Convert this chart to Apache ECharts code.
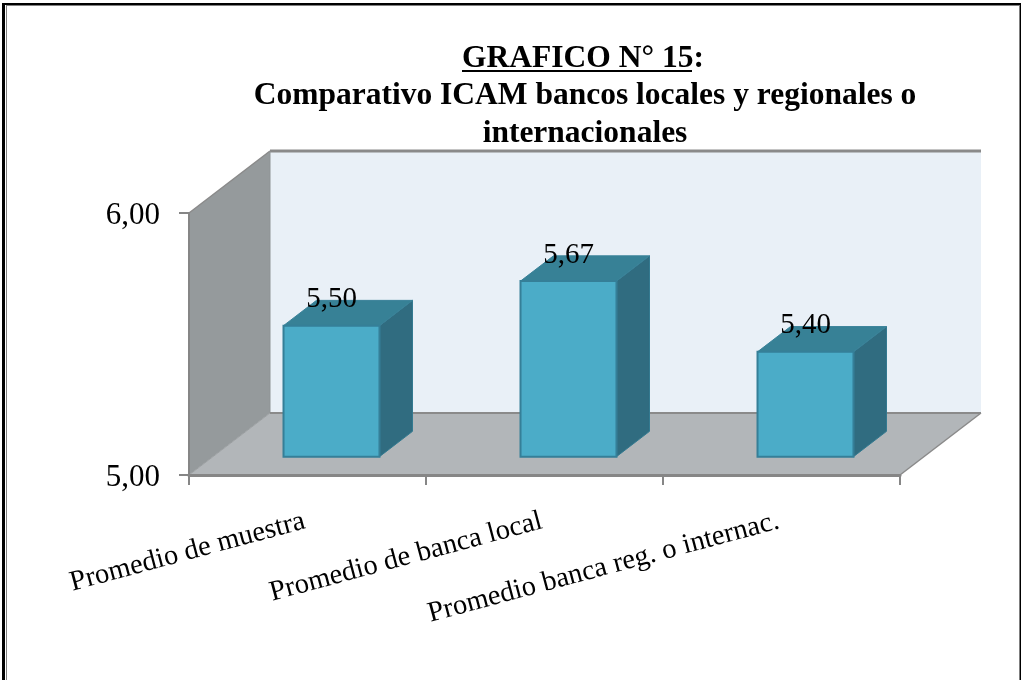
<!DOCTYPE html>
<html><head><meta charset="utf-8">
<style>html,body{margin:0;padding:0;background:#fff}#c{width:1021px;height:680px}</style>
<script src="https://cdn.jsdelivr.net/npm/echarts@6/dist/echarts.min.js"></script>
</head><body><div id="c"></div>
<script>
const categories = ['Promedio de muestra','Promedio de banca local','Promedio banca reg. o internac.'];
const values = [5.50,5.67,5.40];
const axisMin = 5, axisMax = 6;
const titleLine1 = 'GRAFICO N° 15';
const titleLine2 = 'Comparativo ICAM bancos locales y regionales o';
const titleLine3 = 'internacionales';

const fmt = v => v.toFixed(2).replace('.',',');
const SERIF = '"Liberation Serif","Times New Roman",serif';
const DX = 81, DY = 62, FRONT = 0.2963, BACK = 0.7037;
const EDGE = '#8a8a8a';

function renderWalls(params, api){
  const cs = params.coordSys;
  const x0 = cs.x, x1 = cs.x+cs.width, yT = cs.y, yB = cs.y+cs.height;
  const poly = (pts, fill) => ({type:'polygon',shape:{points:pts},style:{fill,stroke:null}});
  const line = (a,b,w,c) => ({type:'line',shape:{x1:a[0],y1:a[1],x2:b[0],y2:b[1]},style:{stroke:c||EDGE,lineWidth:w}});
  return {type:'group',children:[
    poly([[x0+DX,yT-DY],[x1+DX,yT-DY],[x1+DX,yB-DY],[x0+DX,yB-DY]],'#e9f0f7'),
    poly([[x0,yT],[x0+DX,yT-DY],[x0+DX,yB-DY],[x0,yB]],'#959a9c'),
    poly([[x0,yB],[x0+DX,yB-DY],[x1+DX,yB-DY],[x1,yB]],'#b2b6b9'),
    line([x0+DX,yT-DY],[x1+DX,yT-DY],3),
    line([x0,yT],[x0+DX,yT-DY],1.5),
    line([x0+DX,yT-DY],[x0+DX,yB-DY],1,'#8f9496'),
    line([x0+DX,yB-DY],[x1+DX,yB-DY],2),
    line([x0,yB],[x0+DX,yB-DY],1,'#9b9fa1'),
    line([x1,yB],[x1+DX,yB-DY],1.5)
  ]};
}
function renderBar(params, api){
  const i = api.value(0), v = api.value(1);
  const top = api.coord([i,v]), base = api.coord([i,axisMin]);
  const band = api.size([1,0])[0], w = band*0.405;
  const fx = top[0]+DX*FRONT-w/2, fy = top[1]-DY*FRONT, by = base[1]-DY*FRONT;
  const dx = DX*(BACK-FRONT), dy = DY*(BACK-FRONT);
  return {type:'group',children:[
    {type:'polygon',shape:{points:[[fx+w,fy],[fx+w+dx,fy-dy],[fx+w+dx,by-dy],[fx+w,by]]},style:{fill:'#306c80',stroke:'#337a90',lineWidth:1}},
    {type:'polygon',shape:{points:[[fx,fy],[fx+dx,fy-dy],[fx+w+dx,fy-dy],[fx+w,fy]]},style:{fill:'#378196',stroke:'#3a8299',lineWidth:1}},
    {type:'rect',shape:{x:fx,y:fy,width:w,height:by-fy},style:{fill:'#4bacc8',stroke:'#357f98',lineWidth:2}},
    {type:'text',x:fx+w/2,y:fy-26,style:{text:fmt(v),font:'29px '+SERIF,fill:'#000',align:'center',verticalAlign:'middle'}}
  ]};
}
const chart = echarts.init(document.getElementById('c'),null,{renderer:'canvas'});
const tf = 'bold 31.5px '+SERIF;
chart.setOption({
  animation:false,
  backgroundColor:'#fff',
  grid:{left:189,top:213,width:711,height:262,containLabel:false},
  xAxis:{type:'category',data:categories,z:5,
    axisLine:{lineStyle:{color:'#868686',width:3}},
    axisTick:{show:true,length:10,lineStyle:{color:'#868686',width:2}},
    axisLabel:{interval:0,rotate:15,margin:45,padding:[0,3,0,0],fontFamily:SERIF,fontSize:28.5,color:'#000',hideOverlap:false}},
  yAxis:{type:'value',min:axisMin,max:axisMax,interval:1,z:5,splitLine:{show:false},
    axisLine:{show:true,lineStyle:{color:'#868686',width:2}},
    axisTick:{show:true,length:10,lineStyle:{color:'#868686',width:2}},
    axisLabel:{margin:29,verticalAlign:'top',lineHeight:6,fontFamily:SERIF,fontSize:31,color:'#000',formatter:fmt}},
  series:[
    {type:'custom',z:1,silent:true,clip:false,coordinateSystem:'cartesian2d',data:[[0,axisMin]],renderItem:renderWalls,tooltip:{show:false}},
    {type:'custom',z:2,clip:false,coordinateSystem:'cartesian2d',encode:{x:0,y:1},data:values.map((v,i)=>[i,v]),renderItem:renderBar}
  ],
  graphic:[
    {type:'text',x:583,y:59,z:10,style:{text:titleLine1+':',font:tf,align:'center',verticalAlign:'middle',fill:'#000'}},
    {type:'text',x:585,y:96,z:10,style:{text:titleLine2,font:tf,align:'center',verticalAlign:'middle',fill:'#000'}},
    {type:'text',x:585,y:134,z:10,style:{text:titleLine3,font:tf,align:'center',verticalAlign:'middle',fill:'#000'}},
    {type:'rect',z:10,shape:{x:462,y:70,width:230,height:2},style:{fill:'#000'}},
    {type:'rect',z:10,shape:{x:2,y:3,width:1019,height:2},style:{fill:'#000'}},
    {type:'rect',z:10,shape:{x:2,y:3,width:3,height:677},style:{fill:'#000'}},
    {type:'rect',z:10,shape:{x:6,y:5,width:1,height:675},style:{fill:'#808080'}},
    {type:'rect',z:10,shape:{x:6,y:5,width:1013,height:1},style:{fill:'#808080'}},
    {type:'rect',z:10,shape:{x:1019.5,y:3,width:1.5,height:677},style:{fill:'#000'}}
  ]
});
</script></body></html>
